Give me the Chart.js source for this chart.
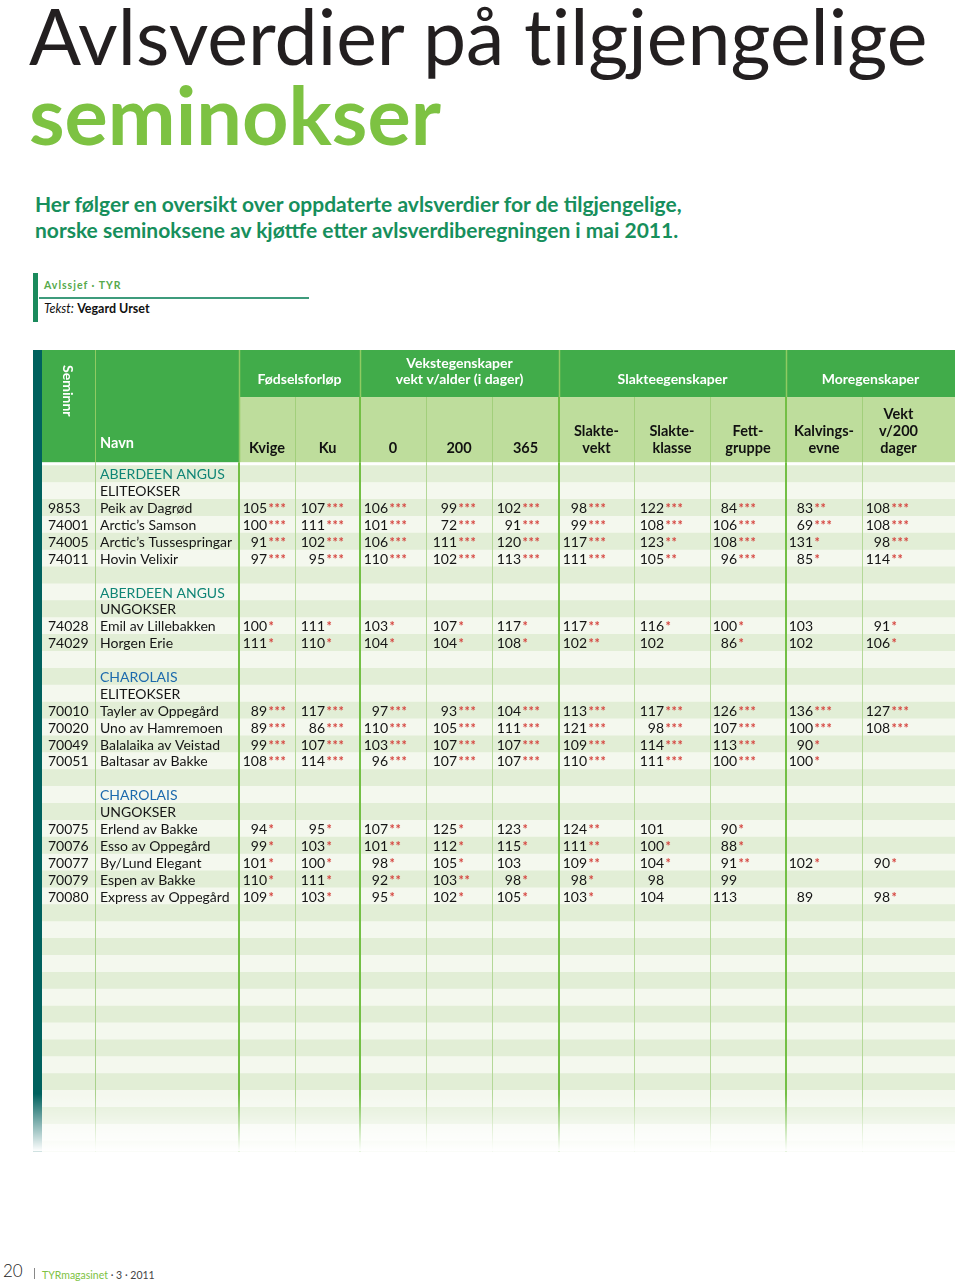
<!DOCTYPE html>
<html lang="no">
<head>
<meta charset="utf-8">
<title>Avlsverdier på tilgjengelige seminokser</title>
<script src="https://cdn.jsdelivr.net/npm/chart.js@4.4.1/dist/chart.umd.min.js"></script>
<style>
  body { margin: 0; background: #fff; width: 960px; height: 1287px; position: relative; overflow: hidden; font-family: Lato, "Open Sans", sans-serif; }
  .abs { position: absolute; white-space: nowrap; line-height: 1.2; }
  #tabell { position: absolute; left: 33px; top: 350px; }
</style>
</head>
<body>
<div class="abs" style="left:29px;top:-11px;font-size:77px;color:#231f20;font-variant-ligatures:none;">Avlsverdier på tilgjengelige</div>
<div class="abs" style="left:29px;top:65px;font-size:81px;font-weight:700;color:#7dc242;">seminokser</div>
<div class="abs" style="left:35px;top:191px;font-size:21px;font-weight:700;color:#178f5c;line-height:26px;">Her følger en oversikt over oppdaterte avlsverdier for de tilgjengelige,<br>norske seminoksene av kjøttfe etter avlsverdiberegningen i mai 2011.</div>

<div style="position:absolute;left:33px;top:273px;width:5px;height:49px;background:#1a8a5c;"></div>
<div style="position:absolute;left:39px;top:297px;width:270px;height:1.5px;background:#3e9b7c;"></div>
<div class="abs" style="left:44px;top:278.6px;font-size:10.5px;font-weight:700;letter-spacing:1px;color:#56a94b;">Avlssjef · TYR</div>
<div class="abs" style="left:44px;top:300.7px;font-size:12.5px;color:#111;"><i>Tekst:</i> <b>Vegard Urset</b></div>

<canvas id="tabell" width="922" height="808"></canvas>

<div class="abs" style="left:3px;top:1261px;font-size:17px;font-weight:300;color:#222;">20</div>
<div style="position:absolute;left:34px;top:1268px;width:1px;height:11px;background:#888;"></div>
<div class="abs" style="left:42px;top:1268.6px;font-size:10.5px;color:#7dc242;">TYRmagasinet <span style="color:#444;">· 3 · 2011</span></div>

<script>
// seksjoner i tabellen
const raser = ['ABERDEEN ANGUS', 'ABERDEEN ANGUS', 'CHAROLAIS', 'CHAROLAIS'];
const klasser = ['ELITEOKSER', 'UNGOKSER', 'ELITEOKSER', 'UNGOKSER'];
const antall = [4, 2, 4, 5];

const seminnr = ['9853', '74001', '74005', '74011', '74028', '74029', '70010', '70020', '70049', '70051', '70075', '70076', '70077', '70079', '70080'];
const navn = ['Peik av Dagrød', 'Arctic’s Samson', 'Arctic’s Tussespringar', 'Hovin Velixir',
  'Emil av Lillebakken', 'Horgen Erie',
  'Tayler av Oppegård', 'Uno av Hamremoen', 'Balalaika av Veistad', 'Baltasar av Bakke',
  'Erlend av Bakke', 'Esso av Oppegård', 'By/Lund Elegant', 'Espen av Bakke', 'Express av Oppegård'];

// avlsverdier, stjernene er sikkerheten
const kvige = ['105***', '100***', '91***', '97***', '100*', '111*', '89***', '89***', '99***', '108***', '94*', '99*', '101*', '110*', '109*'];
const ku = ['107***', '111***', '102***', '95***', '111*', '110*', '117***', '86***', '107***', '114***', '95*', '103*', '100*', '111*', '103*'];
const vekt0 = ['106***', '101***', '106***', '110***', '103*', '104*', '97***', '110***', '103***', '96***', '107**', '101**', '98*', '92**', '95*'];
const vekt200 = ['99***', '72***', '111***', '102***', '107*', '104*', '93***', '105***', '107***', '107***', '125*', '112*', '105*', '103**', '102*'];
const vekt365 = ['102***', '91***', '120***', '113***', '117*', '108*', '104***', '111***', '107***', '107***', '123*', '115*', '103', '98*', '105*'];
const slaktevekt = ['98***', '99***', '117***', '111***', '117**', '102**', '113***', '121***', '109***', '110***', '124**', '111**', '109**', '98*', '103*'];
const slakteklasse = ['122***', '108***', '123**', '105**', '116*', '102', '117***', '98***', '114***', '111***', '101', '100*', '104*', '98', '104'];
const fettgruppe = ['84***', '106***', '108***', '96***', '100*', '86*', '126***', '107***', '113***', '100***', '90*', '88*', '91**', '99', '113'];
const kalvingsevne = ['83**', '69***', '131*', '85*', '103', '102', '136***', '100***', '90*', '100*', '', '', '102*', '', '89'];
const vektDager200 = ['108***', '108***', '98***', '114**', '91*', '106*', '127***', '108***', '', '', '', '', '90*', '', '98*'];

// kolonneoverskrifter
const grupper = [['Fødselsforløp'], ['Vekstegenskaper', 'vekt v/alder (i dager)'], ['Slakteegenskaper'], ['Moregenskaper']];
const kolonner = [['Kvige'], ['Ku'], ['0'], ['200'], ['365'], ['Slakte-', 'vekt'], ['Slakte-', 'klasse'], ['Fett-', 'gruppe'], ['Kalvings-', 'evne'], ['Vekt', 'v/200', 'dager']];

const verdier = [kvige, ku, vekt0, vekt200, vekt365, slaktevekt, slakteklasse, fettgruppe, kalvingsevne, vektDager200];

// oppsett (x i tabell-piksler, y i rader)
const BREDDE = 922;
const KANT = [9, 62, 206, 262, 327, 393, 459, 526, 601, 677, 753, 829, 902];
const GRUPPEKANT = [206, 327, 526, 753, 922];
const TALL_H = [28, 30, 28, 31, 29, 28, 30, 27, 27, 28];
const HODE = 6.843;
const GRUPPE_BUNN = -4.058;
const HODE_BUNN = -0.2;
const RADER = 41;
const MORK = '#41ac4a', LYS = '#bedd9c';

const striper = [];
const stripeFarger = [];
for (let i = 0; i < RADER; i++) {
  striper.push({ x: [9, BREDDE], y: i + 0.5 });
  stripeFarger.push(i % 2 === 0 ? '#e2eed6' : '#f4f8ee');
}

const tabellPlugin = {
  id: 'tabell',
  beforeDatasetsDraw(chart) {
    const { ctx, scales: { x, y } } = chart;
    const rect = (x0, x1, y0, y1, c) => {
      ctx.fillStyle = c;
      ctx.fillRect(x.getPixelForValue(x0), y.getPixelForValue(y0),
        x.getPixelForValue(x1) - x.getPixelForValue(x0), y.getPixelForValue(y1) - y.getPixelForValue(y0));
    };
    rect(9, 206, -HODE, HODE_BUNN, MORK);
    rect(206, BREDDE, -HODE, GRUPPE_BUNN, MORK);
    rect(206, BREDDE, GRUPPE_BUNN, HODE_BUNN, LYS);
  },
  afterDatasetsDraw(chart) {
    const { ctx, scales: { x, y } } = chart;
    const linje = (xv, y0, y1, farge, w) => {
      const px = Math.round(x.getPixelForValue(xv)) + (w % 2 ? 0.5 : 0);
      ctx.strokeStyle = farge;
      ctx.lineWidth = w;
      ctx.beginPath();
      ctx.moveTo(px, y.getPixelForValue(y0));
      ctx.lineTo(px, y.getPixelForValue(y1));
      ctx.stroke();
    };
    const tekst = (s, xv, yv, font, farge, align) => {
      ctx.font = font;
      ctx.fillStyle = farge;
      ctx.textAlign = align || 'left';
      ctx.textBaseline = 'alphabetic';
      ctx.fillText(s, x.getPixelForValue(xv), y.getPixelForValue(yv) + 5.3);
    };

    // linjer i hodet
    linje(62, -HODE, HODE_BUNN, '#8fcb62', 1);
    [327, 526, 753].forEach(k => linje(k, -HODE, GRUPPE_BUNN, '#8fcb62', 1.5));
    linje(206, -HODE, HODE_BUNN, '#8fcb62', 1.5);
    KANT.slice(3, 12).forEach(k => {
      const stor = GRUPPEKANT.includes(k);
      linje(k, GRUPPE_BUNN, HODE_BUNN, stor ? '#73bf45' : '#a2cf7b', stor ? 2 : 1);
    });
    // linjer i kroppen
    linje(62, HODE_BUNN, RADER, '#a9d18c', 1);
    KANT.slice(2, 12).forEach(k => {
      const stor = GRUPPEKANT.includes(k);
      linje(k, HODE_BUNN, RADER, stor ? '#73bf45' : '#b4d898', stor ? 2 : 1);
    });

    // tekst i hodet
    const hvitB = 'bold 14px Lato';
    grupper.forEach((g, i) => {
      const cx = (GRUPPEKANT[i] + GRUPPEKANT[i + 1]) / 2;
      g.forEach((l, j) => tekst(l, cx, -5.12 - (g.length - 1 - j), hvitB, '#fff', 'center'));
    });
    kolonner.forEach((k, i) => {
      const cx = (KANT[i + 2] + KANT[i + 3]) / 2;
      k.forEach((l, j) => tekst(l, cx, -1.04 - (k.length - 1 - j) * 1.005, 'bold 14.5px Lato', '#111', 'center'));
    });
    tekst('Navn', 67, -1.33, 'bold 14.5px Lato', '#fff');
    ctx.save();
    ctx.translate(x.getPixelForValue(35), y.getPixelForValue(-5.95));
    ctx.rotate(Math.PI / 2);
    ctx.font = hvitB;
    ctx.fillStyle = '#fff';
    ctx.textAlign = 'left';
    ctx.textBaseline = 'middle';
    ctx.fillText('Seminnr', 0, 0);
    ctx.restore();

    // rader
    const vanlig = '14px Lato';
    let rad = 0, n = 0;
    raser.forEach((rase, s) => {
      tekst(rase, 67, rad + 0.5, vanlig, s < 2 ? '#0f8576' : '#1c6aad');
      tekst(klasser[s], 67, rad + 1.5, vanlig, '#151515');
      for (let r = 0; r < antall[s]; r++, n++) {
        const yv = rad + 2.5 + r;
        tekst(seminnr[n], 15, yv, vanlig, '#151515');
        tekst(navn[n], 67, yv, vanlig, '#151515');
        verdier.forEach((kol, j) => {
          const v = kol[n];
          if (!v) return;
          const tall = v.replace(/\*/g, '');
          const stj = v.length - tall.length;
          const xr = KANT[j + 2] + TALL_H[j];
          tekst(tall, xr, yv, vanlig, '#151515', 'right');
          for (let k = 0; k < stj; k++) {
            tekst('*', xr + 1.4 + k * 6.1, yv, 'bold 12.5px Lato', '#d5443f');
          }
        });
      }
      rad += 2 + antall[s] + 1;
    });

    // mørk kant til venstre
    const x0 = x.getPixelForValue(0), x1 = x.getPixelForValue(9);
    ctx.fillStyle = '#00615e';
    ctx.fillRect(x0, y.getPixelForValue(-HODE), x1 - x0, y.getPixelForValue(RADER) - y.getPixelForValue(-HODE));

    // tone ut nederst
    const f0 = y.getPixelForValue(37.2), f1 = y.getPixelForValue(40.6);
    const grad = ctx.createLinearGradient(0, f0, 0, f1);
    grad.addColorStop(0, 'rgba(255,255,255,0)');
    grad.addColorStop(1, 'rgba(255,255,255,1)');
    ctx.fillStyle = grad;
    ctx.fillRect(0, f0, chart.width, f1 - f0);
    ctx.fillStyle = '#fff';
    ctx.fillRect(0, f1, chart.width, chart.height - f1);
  }
};

window.onload = function () {
  const ctx = document.getElementById('tabell').getContext('2d');
  new Chart(ctx, {
    type: 'bar',
    data: {
      datasets: [{
        data: striper,
        backgroundColor: stripeFarger,
        borderWidth: 0,
        barPercentage: 1,
        categoryPercentage: 1
      }]
    },
    options: {
      indexAxis: 'y',
      responsive: false,
      animation: false,
      layout: { padding: 0 },
      plugins: { legend: { display: false }, tooltip: { enabled: false } },
      scales: {
        x: { type: 'linear', min: 0, max: BREDDE, display: false, offset: false },
        y: { type: 'linear', min: -HODE, max: RADER, reverse: true, display: false, offset: false, ticks: { stepSize: 10 } }
      }
    },
    plugins: [tabellPlugin]
  });
};
</script>
</body>
</html>
